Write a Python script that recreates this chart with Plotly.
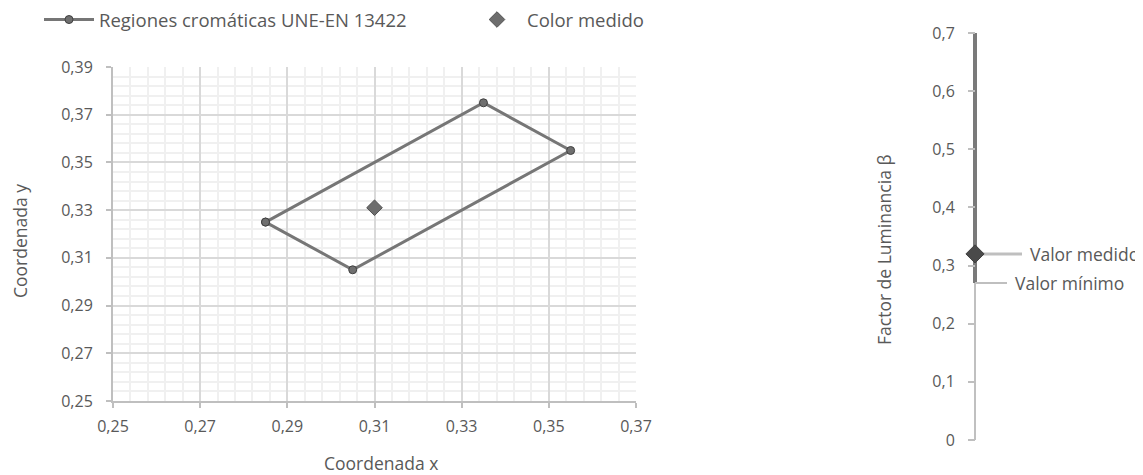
import plotly.graph_objects as go

# ---- data ----
region_x = [0.285, 0.335, 0.355, 0.305, 0.285]
region_y = [0.325, 0.375, 0.355, 0.305, 0.325]
medido_x = [0.31]
medido_y = [0.331]

xy_ticks = [0.25, 0.27, 0.29, 0.31, 0.33, 0.35, 0.37, 0.39]
xy_labels = ["0,25", "0,27", "0,29", "0,31", "0,33", "0,35", "0,37", "0,39"]

beta_min = 0.27
beta_max = 0.70
beta_medido = 0.32
beta_ticks = [0, 0.1, 0.2, 0.3, 0.4, 0.5, 0.6, 0.7]
beta_labels = ["0", "0,1", "0,2", "0,3", "0,4", "0,5", "0,6", "0,7"]

W, H = 1143, 475
OFF = 8  # page body margin
FONT = "Open Sans"
TICK_FS = 16
LEG_FS = 18.5
TXT_FS = 17.5
TXT = "#595959"
GRID = "#d9d9d9"
MINOR = "#f0f0f0"
AXL = "#bfbfbf"


def px(x):
    return (x - OFF) / W


def py(y):
    return 1 - (y - OFF) / H


fig = go.Figure()

fig.add_trace(go.Scatter(
    x=region_x, y=region_y, mode="lines+markers",
    name="Regiones cromáticas UNE-EN 13422",
    line=dict(color="#767676", width=3),
    marker=dict(symbol="circle", size=8, color="#6f6f6f", line=dict(color="#404040", width=1)),
    xaxis="x", yaxis="y"))

fig.add_trace(go.Scatter(
    x=medido_x, y=medido_y, mode="markers", name="Color medido",
    marker=dict(symbol="diamond", size=12, color="#6d6d6d", line=dict(color="#505050", width=1)),
    xaxis="x", yaxis="y"))

# right luminance scale
fig.add_trace(go.Scatter(
    x=[0, 0], y=[0, beta_min], mode="lines", showlegend=False,
    line=dict(color="#c0c0c0", width=2), xaxis="x2", yaxis="y2", hoverinfo="skip"))
fig.add_trace(go.Scatter(
    x=[0, 0], y=[beta_min, beta_max], mode="lines", showlegend=False,
    line=dict(color="#7a7a7a", width=4), xaxis="x2", yaxis="y2", hoverinfo="skip"))
fig.add_trace(go.Scatter(
    x=[0, 47], y=[beta_medido, beta_medido], mode="lines", showlegend=False,
    line=dict(color="#bfbfbf", width=3), xaxis="x2", yaxis="y2", hoverinfo="skip"))
fig.add_trace(go.Scatter(
    x=[0, 32], y=[beta_min, beta_min], mode="lines", showlegend=False,
    line=dict(color="#bfbfbf", width=2), xaxis="x2", yaxis="y2", hoverinfo="skip"))
fig.add_trace(go.Scatter(
    x=[0], y=[beta_medido], mode="markers", showlegend=False,
    marker=dict(symbol="diamond", size=14, color="#4a4a4a", line=dict(color="#404040", width=1)),
    xaxis="x2", yaxis="y2"))

fig.update_layout(
    width=W, height=H,
    margin=dict(l=0, r=0, t=0, b=0, autoexpand=False),
    paper_bgcolor="white", plot_bgcolor="white",
    separators=",.",
    font=dict(family=FONT, size=TICK_FS, color=TXT),
    showlegend=True,
    legend=dict(orientation="h", x=px(39), y=py(1), xanchor="left", yanchor="top",
                font=dict(size=LEG_FS, color=TXT), entrywidth=363, itemwidth=50,
                bgcolor="rgba(0,0,0,0)"),
    xaxis=dict(domain=[px(113), px(636)], range=[0.25, 0.37], tickvals=xy_ticks[:7], ticktext=xy_labels[:7],
               showgrid=True, gridcolor=GRID, gridwidth=2,
               minor=dict(dtick=0.004, tick0=0.25, showgrid=True, gridcolor=MINOR, gridwidth=2),
               showline=True, linecolor=AXL, linewidth=2, ticks="outside", ticklen=5,
               tickcolor=AXL, tickwidth=2, zeroline=False, anchor="y", fixedrange=True,
               automargin=False, ticklabelstandoff=5),
    yaxis=dict(domain=[py(401), py(67)], range=[0.25, 0.39], tickvals=xy_ticks, ticktext=xy_labels,
               showgrid=True, gridcolor=GRID, gridwidth=2,
               minor=dict(dtick=0.004, tick0=0.25, showgrid=True, gridcolor=MINOR, gridwidth=2),
               showline=True, linecolor=AXL, linewidth=2, ticks="outside", ticklen=5,
               tickcolor=AXL, tickwidth=2, zeroline=False, anchor="x", fixedrange=True,
               automargin=False, ticklabelstandoff=10),
    xaxis2=dict(domain=[px(955), px(1143)], range=[-20, 168], visible=False, anchor="y2", fixedrange=True,
                automargin=False),
    yaxis2=dict(domain=[py(440), py(33)], range=[0, 0.7], tickvals=beta_ticks, ticktext=beta_labels,
                showgrid=False, zeroline=False, showline=False, ticks="outside", ticklen=7,
                tickcolor=AXL, tickwidth=2, anchor="free", position=px(975), fixedrange=True,
                automargin=False, ticklabelstandoff=10),
    annotations=[
        dict(text="Coordenada y", x=px(20), y=py(241), xref="paper", yref="paper",
             xanchor="center", yanchor="middle",
             textangle=-90, showarrow=False, font=dict(size=TXT_FS, color=TXT)),
        dict(text="Coordenada x", x=px(381), y=py(463), xref="paper", yref="paper",
             xanchor="center", yanchor="middle",
             showarrow=False, font=dict(size=TXT_FS, color=TXT)),
        dict(text="Factor de Luminancia β", x=px(884), y=py(250), xref="paper", yref="paper",
             xanchor="center", yanchor="middle",
             textangle=-90, showarrow=False, font=dict(size=TXT_FS, color=TXT)),
        dict(text="Valor medido", x=53, y=beta_medido, xref="x2", yref="y2", xanchor="left",
             yanchor="middle", showarrow=False, font=dict(size=TXT_FS, color=TXT)),
        dict(text="Valor mínimo", x=38, y=beta_min, xref="x2", yref="y2", xanchor="left",
             yanchor="middle", showarrow=False, font=dict(size=TXT_FS, color=TXT)),
    ],
)

fig.write_html("out.html")
